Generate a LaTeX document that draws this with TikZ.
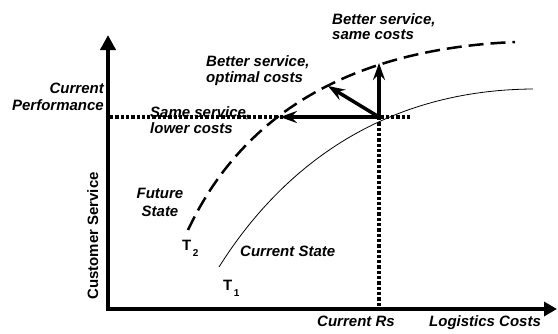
\documentclass[tikz,border=0pt]{standalone}
\usepackage{fontspec}
\setmainfont{Liberation Sans}
\usetikzlibrary{arrows.meta}
\tikzset{
	lbl/.style={inner sep=0pt, font=\fontsize{15}{16}\selectfont\bfseries\itshape},
	uplbl/.style={inner sep=0pt, font=\fontsize{15}{16}\selectfont\bfseries},
	axis/.style={line width=4.5pt, line join=miter, {Triangle[length=15pt,width=15pt]}-{Triangle[length=13pt,width=14pt]}},
	move/.style={line width=3.5pt, -{Stealth[length=17pt,width=12pt,inset=6pt]}},
	guide/.style={line width=3.3pt, dash pattern=on 3.3pt off 2pt},
	future/.style={line width=2.5pt, dash pattern=on 15pt off 7pt},
	current/.style={line width=0.8pt},
}
\newcommand{\tsub}[1]{T\kern1.5pt\raisebox{-6pt}{\fontsize{10}{10}\selectfont #1}}

\begin{document}
\begin{tikzpicture}[x=1pt,y=-1pt]
			%%%%% START %%%%%
			\useasboundingbox (0,0) rectangle (558,333);
			
			\coordinate (O) at (108,309);
			\coordinate (ytop) at (108,35);
			\coordinate (xend) at (557,309);
			\coordinate (P) at (379,117);
			\coordinate (perf) at (110,117);
			\coordinate (perfend) at (410,117);
			\coordinate (rs) at (379,309);
			\coordinate (lower) at (280,117);
			\coordinate (optimal) at (328,86);
			\coordinate (same) at (379,63);
			
			% guide lines
			\draw[guide] (perf) -- (perfend);
			\draw[guide] (P) -- (rs);
			
			% trade-off curves
			\draw[current] (219,267) .. controls (280,170) and (380,90) .. (533,89);
			\draw[future] (188,230) .. controls (235,130) and (330,50) .. (515,42);
			
			% axes
			\draw[axis] (ytop) -- (O) -- (xend);
			
			% moves
			\draw[move] (P) -- (lower);
			\draw[move] (P) -- (optimal);
			\draw[move] (P) -- (same);
			
			% labels
			\node[lbl, anchor=north east, align=right, font=\fontsize{15}{17}\selectfont\bfseries\itshape] (curperf) at (104,83) {Current\\Performance};
			\node[lbl, anchor=north, align=center, font=\fontsize{15}{18}\selectfont\bfseries\itshape] (futstate) at (160,188) {Future\\State};
			\node[lbl, anchor=north west, align=left] (samelower) at (150,106) {Same service,\\lower costs};
			\node[lbl, anchor=north west, align=left] (betteropt) at (206,55) {Better service,\\optimal costs};
			\node[lbl, anchor=north west, align=left, font=\fontsize{15}{15}\selectfont\bfseries\itshape] (bettersame) at (332,13) {Better service,\\same costs};
			\node[lbl, anchor=base west] (curstate) at (240,256) {Current State};
			\node[lbl, anchor=base] (currs) at (356,326) {Current Rs};
			\node[lbl, anchor=base west] (logcost) at (429,326) {Logistics Costs};
			\node[uplbl, anchor=base, rotate=90] (custserv) at (98,236) {Customer Service};
			\node[uplbl, anchor=base west] (ttwo) at (182,250) {\tsub{2}};
			\node[uplbl, anchor=base west] (tone) at (223,290) {\tsub{1}};
			
			%%%%% END %%%%%
\end{tikzpicture}
\end{document}
